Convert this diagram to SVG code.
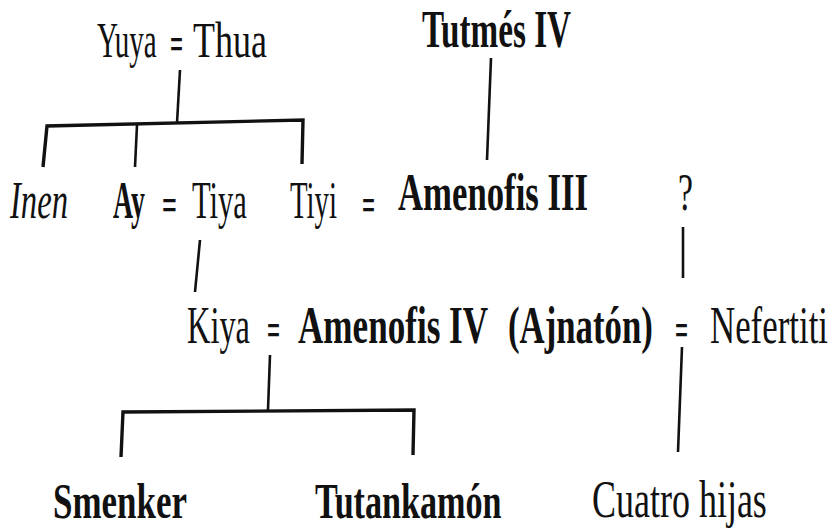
<svg xmlns="http://www.w3.org/2000/svg" width="835" height="530" viewBox="0 0 835 530">
<style>
text{font-family:"Liberation Serif","Times New Roman",serif;fill:#111;font-size:52px}
.b{font-weight:bold}
.i{font-style:italic}
.s50{font-size:50px}
.eq{font-weight:bold;font-size:46px}
.ln{fill:none;stroke:#111;stroke-width:2.6;stroke-linecap:butt;stroke-linejoin:miter}
.br{fill:none;stroke:#111;stroke-width:3.4}
</style>
<rect width="835" height="530" fill="#fff"/>
<g id="connectors">
<path class="ln" d="M180,70 L177,123"/>
<path class="br" d="M43,167 L47,126 L303,120 L302,164"/>
<path class="ln" d="M137,125 L135,167"/>
<path class="ln" d="M491,58 L487,160"/>
<path class="ln" d="M683,227 L683,278"/>
<path class="ln" d="M200,240 L195,292"/>
<path class="ln" d="M270,355 L268,410"/>
<path class="br" d="M121,457 L123,412 L414,410 L413,455"/>
<path class="ln" d="M682,347 L678,452"/>
</g>
<g id="yuya-thua">
<text class="s50" transform="translate(97,57) scale(0.582,1)">Yuya</text>
<text class="eq" transform="translate(170,59) scale(0.50,1)">=</text>
<text class="s50" transform="translate(193,57) scale(0.720,1)">Thua</text>
</g>
<g id="tutmes-iv">
<text class="b" transform="translate(422,47) scale(0.638,1)">Tutmés IV</text>
</g>
<g id="inen">
<text class="i" transform="translate(10,218) scale(0.628,1)">Inen</text>
</g>
<g id="ay-tiya">
<text class="b" transform="translate(113,218) scale(0.535,1)">Ay</text>
<text class="eq" transform="translate(162,220) scale(0.57,1)">=</text>
<text transform="translate(192,218) scale(0.588,1)">Tiya</text>
</g>
<g id="tiyi-amenofis-iii">
<text transform="translate(290,218) scale(0.554,1)">Tiyi</text>
<text class="eq" transform="translate(362,220) scale(0.50,1)">=</text>
<text class="b" transform="translate(398,210) scale(0.668,1)">Amenofis III</text>
</g>
<g id="unknown">
<text transform="translate(678,210) scale(0.65,1)">?</text>
</g>
<g id="kiya-amenofis-iv-nefertiti">
<text transform="translate(187,343) scale(0.623,1)">Kiya</text>
<text class="eq" transform="translate(267,345) scale(0.50,1)">=</text>
<text class="b" transform="translate(298,343) scale(0.675,1)">Amenofis IV</text>
<text class="b" transform="translate(508,343) scale(0.669,1)">(Ajnatón)</text>
<text class="eq" transform="translate(675,345) scale(0.50,1)">=</text>
<text transform="translate(710,343) scale(0.670,1)">Nefertiti</text>
</g>
<g id="smenker">
<text class="b s50" transform="translate(53,518) scale(0.699,1)">Smenker</text>
</g>
<g id="tutankamon">
<text class="b s50" transform="translate(315,518) scale(0.683,1)">Tutankamón</text>
</g>
<g id="cuatro-hijas">
<text transform="translate(592,517) scale(0.692,1)">Cuatro hijas</text>
</g>
</svg>
